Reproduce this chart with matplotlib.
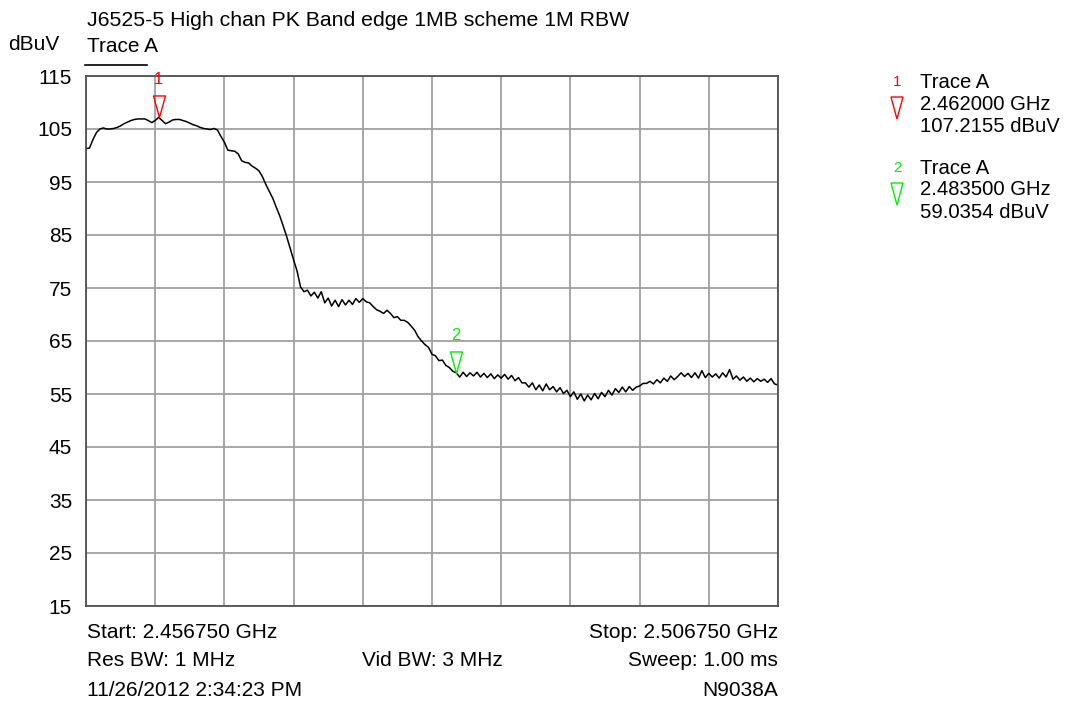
import numpy as np
import matplotlib
matplotlib.use("Agg")
import matplotlib.pyplot as plt
from matplotlib.path import Path
from matplotlib.markers import MarkerStyle

plt.rcParams["font.family"] = ["Liberation Sans", "DejaVu Sans"]

# sweep settings
f_start = 2.456750   # GHz
f_stop = 2.506750    # GHz
y_ticks = [15, 25, 35, 45, 55, 65, 75, 85, 95, 105, 115]

# trace levels (dBuV) read every 0.25 MHz across the sweep
levels = [
    101.3, 101.4, 103.0, 104.3, 105.0, 105.2, 105.0, 105.0, 105.1, 105.3,
    105.6, 106.0, 106.3, 106.6, 106.8, 106.9, 106.9, 106.9, 106.6, 106.2,
    106.6, 107.2, 106.6, 106.0, 106.3, 106.7, 106.8, 106.8, 106.6, 106.4,
    106.1, 105.8, 105.6, 105.3, 105.1, 105.0, 104.9, 105.1, 104.8, 103.6,
    102.5, 101.0, 100.9, 100.8, 100.3, 99.0, 98.7, 98.6, 98.0, 97.6,
    97.1, 96.0, 94.5, 93.2, 91.9, 90.2, 88.6, 86.7, 84.7, 82.5,
    80.3, 78.2, 75.2, 74.3, 74.6, 73.5, 74.2, 73.1, 74.3, 72.2,
    73.1, 71.6, 72.7, 71.5, 72.8, 71.8, 72.7, 71.9, 73.0, 72.3,
    73.0, 72.4, 72.2, 71.5, 70.9, 70.6, 70.2, 70.8, 70.2, 69.4,
    69.6, 68.9, 68.9, 68.5, 67.8, 67.0, 65.8, 65.0, 64.3, 63.8,
    62.5, 62.2, 61.3, 61.4, 60.4, 60.0, 59.3, 59.0, 58.2, 59.1,
    58.3, 59.0, 58.4, 59.1, 58.2, 58.9, 58.1, 58.8, 57.9, 58.6,
    58.0, 58.7, 57.8, 58.5, 57.5, 58.1, 57.1, 57.1, 56.3, 57.1,
    55.8, 56.7, 55.6, 56.9, 55.8, 56.4, 55.4, 56.2, 55.1, 55.7,
    54.5, 55.4, 54.0, 55.0, 53.7, 54.8, 53.9, 55.1, 54.1, 55.3,
    54.5, 55.7, 54.8, 56.0, 55.3, 56.3, 55.4, 56.4, 55.7, 56.3,
    56.5, 57.0, 57.0, 57.4, 56.9, 57.7, 57.1, 58.0, 57.4, 58.4,
    57.7, 58.3, 59.0, 58.3, 58.9, 58.1, 59.0, 58.0, 59.4, 58.1,
    58.9, 58.2, 58.8, 58.0, 59.0, 58.2, 59.6, 57.8, 58.4, 57.6,
    58.2, 57.4, 58.0, 57.3, 57.9, 57.4, 57.8, 57.2, 57.9, 56.9,
    56.7,
]
freqs = np.linspace(f_start, f_stop, len(levels))

# markers
marker_labels = ["1", "2"]
marker_freqs = [2.462000, 2.483500]
marker_levels = [107.2155, 59.0354]
marker_colors = ["#ff0000", "#00ee00"]

W, H = 1069, 711
fig = plt.figure(figsize=(W / 100, H / 100), dpi=100)

def fx(px):
    return px / W

def fy(py):
    return 1 - py / H

ax = fig.add_axes([fx(86), fy(606), fx(778) - fx(86), fy(76) - fy(606)])
ax.set_xlim(f_start, f_stop)
ax.set_ylim(15, 115)
ax.set_xticks(np.linspace(f_start, f_stop, 11))
ax.set_yticks(y_ticks)
ax.grid(True, color="#a0a0a0", linewidth=1.3)
ax.tick_params(axis="x", length=0, labelbottom=False)
ax.tick_params(axis="y", length=0, labelsize=15, pad=10, colors="black")
for s in ax.spines.values():
    s.set_color("#505050")
    s.set_linewidth(1.3)

ax.plot(freqs, levels, color="black", linewidth=1.1)

# marker triangles (apex on the trace)
tri = Path([(0, 0), (-0.28, 1), (0.28, 1), (0, 0)],
           [Path.MOVETO, Path.LINETO, Path.LINETO, Path.CLOSEPOLY])
tri_marker = MarkerStyle(tri)
for lab, f, lv, c in zip(marker_labels, marker_freqs, marker_levels, marker_colors):
    ax.plot([f], [lv], marker=tri_marker, markersize=31, markerfacecolor="none",
            markeredgecolor=c, markeredgewidth=1.0, clip_on=False)
    ax.annotate(lab, xy=(f, lv), xytext=(0, 27), textcoords="offset points",
                ha="center", va="center", color=c, fontsize=12,
                annotation_clip=False)

fs = 15
fig.text(fx(87), fy(20), "J6525-5 High chan PK Band edge 1MB scheme 1M RBW",
         fontsize=15.3, va="center", ha="left")
fig.text(fx(8), fy(44), "dBuV", fontsize=fs, va="center", ha="left")
fig.text(fx(87), fy(47), "Trace A", fontsize=fs, va="center", ha="left")
fig.add_artist(plt.Line2D([fx(85), fx(147)], [fy(65), fy(65)], color="black",
                          linewidth=1.2, transform=fig.transFigure))

# footer annotations
fig.text(fx(87), fy(632), "Start: 2.456750 GHz", fontsize=fs, va="center")
fig.text(fx(87), fy(661), "Res BW: 1 MHz", fontsize=fs, va="center")
fig.text(fx(87), fy(690), "11/26/2012 2:34:23 PM", fontsize=fs, va="center")
fig.text(fx(432), fy(661), "Vid BW: 3 MHz", fontsize=fs, va="center", ha="center")
fig.text(fx(778), fy(632), "Stop: 2.506750 GHz", fontsize=fs, va="center", ha="right")
fig.text(fx(778), fy(661), "Sweep: 1.00 ms", fontsize=fs, va="center", ha="right")
fig.text(fx(778), fy(690), "N9038A", fontsize=fs, va="center", ha="right")

# marker readout on the right
fs_r = 14.6
rows = [82, 168]
for (lab, f, lv, c), y0 in zip(zip(marker_labels, marker_freqs, marker_levels, marker_colors), rows):
    fig.text(fx(897), fy(y0), lab, color=c, fontsize=11, ha="center", va="center")
    fig.text(fx(920), fy(y0), "Trace A", fontsize=fs_r, va="center")
    fig.text(fx(920), fy(y0 + 22), f"{f:.6f} GHz", fontsize=fs_r, va="center")
    fig.text(fx(920), fy(y0 + 44), f"{lv:.4f} dBuV", fontsize=fs_r, va="center")
    top = y0 + 15
    fig.add_artist(plt.Polygon([[fx(891), fy(top)], [fx(903), fy(top)], [fx(897), fy(top + 22)]],
                               closed=True, fill=False, edgecolor=c, linewidth=1.0,
                               transform=fig.transFigure))

fig.savefig("out.png", dpi=100)
